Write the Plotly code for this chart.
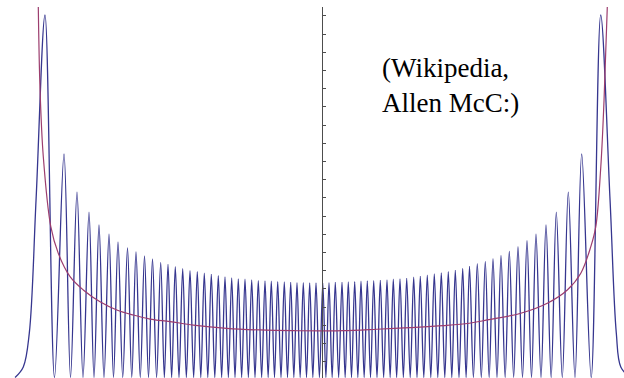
import plotly.graph_objects as go

# ---------------- data ----------------
# Quantum probability density (blue): peak positions / heights, zeros (troughs), outer tails
left_peak_x = [-11.112, -10.352, -9.832, -9.352, -8.952, -8.552, -8.192, -7.812, -7.472, -7.132,
               -6.812, -6.484, -6.192, -5.90, -5.604, -5.312, -5.02, -4.74, -4.46, -4.18,
               -3.912, -3.644, -3.38, -3.112, -2.844, -2.58, -2.312, -2.06, -1.804, -1.54,
               -1.284, -1.032, -0.78, -0.524, -0.272]
left_peak_y = [19.92, 12.28, 10.19, 9.09, 8.38, 7.88, 7.45, 7.12, 6.90, 6.68,
               6.51, 6.33, 6.22, 6.09, 5.98, 5.87, 5.81, 5.73, 5.67, 5.59,
               5.52, 5.47, 5.41, 5.40, 5.36, 5.32, 5.30, 5.29, 5.26, 5.25,
               5.23, 5.21, 5.21, 5.19, 5.19]
center_peak_x = [0.0]
center_peak_y = [5.19]
right_peak_x = [0.248, 0.50, 0.768, 1.02, 1.276, 1.528, 1.78, 2.036, 2.30, 2.568,
                2.82, 3.088, 3.356, 3.636, 3.90, 4.18, 4.46, 4.74, 5.02, 5.30,
                5.596, 5.868, 6.18, 6.50, 6.808, 7.128, 7.46, 7.808, 8.168, 8.528,
                8.928, 9.34, 9.82, 10.356, 11.116]
right_peak_y = [5.21, 5.23, 5.23, 5.25, 5.26, 5.29, 5.30, 5.32, 5.34, 5.36,
                5.40, 5.41, 5.45, 5.51, 5.56, 5.62, 5.69, 5.74, 5.81, 5.89,
                5.99, 6.11, 6.25, 6.38, 6.53, 6.71, 6.93, 7.19, 7.52, 7.87,
                8.38, 9.09, 10.19, 12.28, 19.92]
left_trough_x = [-10.732, -10.092, -9.592, -9.152, -8.752, -8.372, -8.002, -7.642, -7.302, -6.972,
                 -6.648, -6.338, -6.046, -5.752, -5.458, -5.166, -4.88, -4.60, -4.32, -4.046,
                 -3.778, -3.512, -3.246, -2.978, -2.712, -2.446, -2.186, -1.932, -1.672, -1.412,
                 -1.158, -0.906, -0.652, -0.398, -0.136]
right_trough_x = [0.124, 0.374, 0.634, 0.894, 1.148, 1.402, 1.654, 1.908, 2.168, 2.434,
                  2.694, 2.954, 3.222, 3.496, 3.768, 4.04, 4.32, 4.60, 4.88, 5.16,
                  5.448, 5.732, 6.024, 6.34, 6.654, 6.968, 7.294, 7.634, 7.988, 8.348,
                  8.728, 9.134, 9.58, 10.088, 10.736]
left_tail_x = [-12.31, -11.98, -11.74, -11.47]
left_tail_y = [0.0, 0.58, 2.44, 9.75]
right_tail_x = [11.49, 11.74, 11.92, 12.30]
right_tail_y = [9.75, 2.44, 0.58, 0.0]

# Classical probability density (red)
classical_x = [-11.38, -11.31, -11.18, -10.88, -10.58, -10.11, -9.58, -8.91, -8.24, -7.58,
               -6.91, -6.11, -5.18, -3.84, -2.51, -1.18, 0.0, 0.82, 2.16, 3.49,
               4.82, 5.86, 6.58, 7.92, 8.98, 9.78, 10.32, 10.72, 10.92, 11.12,
               11.25, 11.38]
classical_y = [20.37, 15.80, 12.13, 8.29, 6.82, 5.54, 4.81, 4.16, 3.71, 3.43,
               3.21, 3.07, 2.88, 2.70, 2.61, 2.57, 2.56, 2.57, 2.65, 2.74,
               2.85, 2.98, 3.16, 3.53, 4.08, 4.81, 5.73, 7.19, 8.29, 11.58,
               15.25, 20.37]

credit_lines = ["(Wikipedia,", "Allen McC:)"]

# ---------------- build blue series (merge measured points in x order) ----------------
pts = []
pts += list(zip(left_tail_x, left_tail_y))
pts += list(zip(left_peak_x, left_peak_y))
pts += list(zip(center_peak_x, center_peak_y))
pts += list(zip(right_peak_x, right_peak_y))
pts += [(x, 0.0) for x in left_trough_x]
pts += [(x, 0.0) for x in right_trough_x]
pts += list(zip(right_tail_x, right_tail_y))
pts.sort(key=lambda p: p[0])
wave_x = [p[0] for p in pts]
wave_y = [p[1] for p in pts]

fig = go.Figure()
fig.add_trace(go.Scatter(
    x=wave_x, y=wave_y, mode="lines",
    line=dict(color="#36368f", width=1.3, shape="spline", smoothing=1.0),
    hoverinfo="skip"))
fig.add_trace(go.Scatter(
    x=classical_x, y=classical_y, mode="lines",
    line=dict(color="#9c3d6e", width=1.2, shape="spline", smoothing=1.0),
    hoverinfo="skip"))

serif = "Liberation Serif"
fig.add_annotation(text=credit_lines[0], xref="paper", yref="paper",
                   x=0.609, y=0.835, xanchor="left", yanchor="middle",
                   showarrow=False, font=dict(family=serif, size=27, color="black"))
fig.add_annotation(text=credit_lines[1], xref="paper", yref="paper",
                   x=0.609, y=0.742, xanchor="left", yanchor="middle",
                   showarrow=False, font=dict(family=serif, size=27, color="black"))

fig.update_layout(
    width=624, height=378,
    margin=dict(l=0, r=0, t=7, b=0),
    paper_bgcolor="white", plot_bgcolor="white",
    showlegend=False,
    xaxis=dict(range=[-12.912, 12.048], showgrid=False, zeroline=False,
               showticklabels=False, showline=False, ticks=""),
    yaxis=dict(range=[-0.03, 20.36], showgrid=False, zeroline=False,
               showticklabels=False, showline=True, linecolor="#4d4d4d", linewidth=1,
               ticks="inside", ticklen=3, tickcolor="#4d4d4d", tickwidth=1,
               tick0=-0.13, dtick=1,
               anchor="free", position=0.5165),
)

fig.write_html("out.html", config={"displayModeBar": False},
               post_script="document.body.style.margin='0px';document.body.style.overflow='hidden';")
